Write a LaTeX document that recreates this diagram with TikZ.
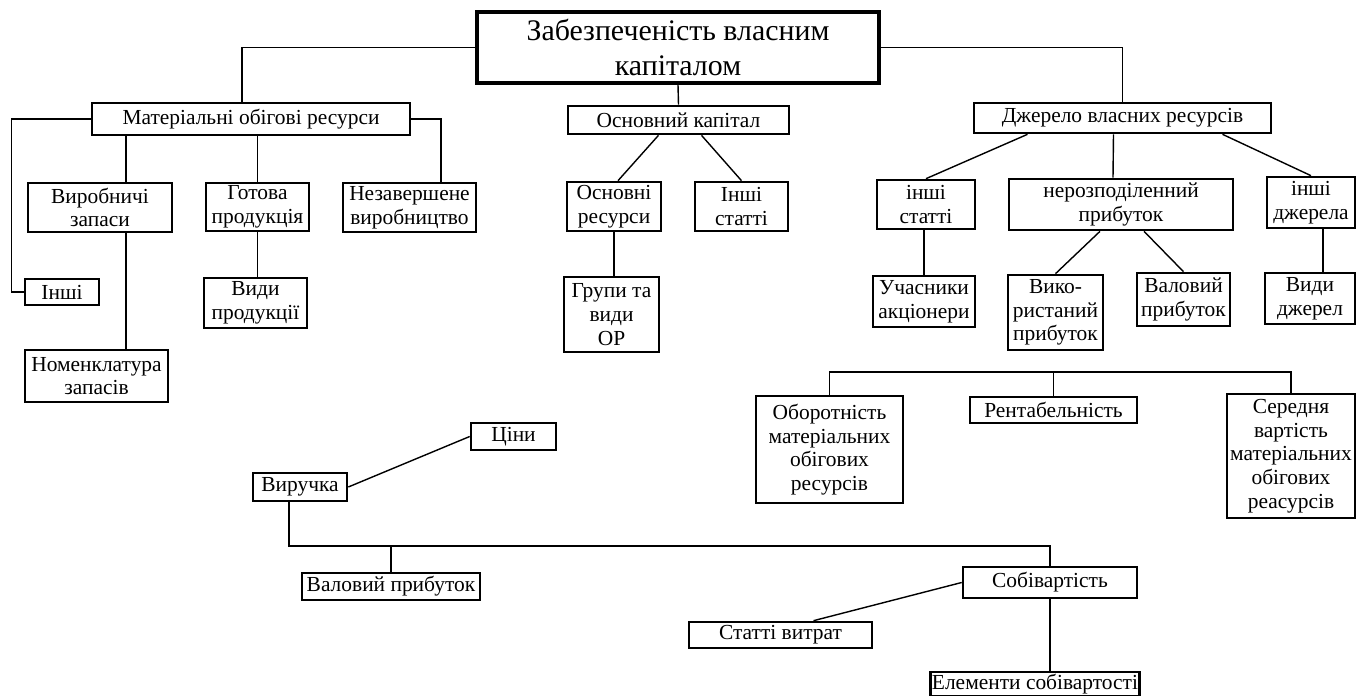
\documentclass[tikz,border=0pt]{standalone}
\usepackage{fontspec}
\setmainfont{Liberation Serif}
\usetikzlibrary{calc,positioning}

\begin{document}
\begin{tikzpicture}[x=0.02cm,y=-0.02cm]
    \tikzstyle{block} = [rectangle, draw, line width=1.5pt, inner sep=1pt,
      align=center, font=\fontsize{12.2}{13.5}\selectfont]
    \tikzstyle{line} = [draw, line width=0.8pt]
    \tikzset{wh/.style 2 args={minimum width=#1*0.02cm, minimum height=#2*0.02cm}}

    \fill[white] (0,0) rectangle (1357,696);
    \useasboundingbox (0,0) rectangle (1357,696);

    % Define nodes
    \node[block, wh={402}{71}, line width=1.8pt, font=\fontsize{17}{19.5}\selectfont]
      (top) at (678,47.5) {Забезпеченість власним\\капіталом};
    \node[block, wh={318}{32}] (matres) at (251,119) {Матеріальні обігові ресурси};
    \node[block, wh={221}{28}] (osnkap) at (678.5,120) {Основний капітал};
    \node[block, wh={297}{30}] (dzher) at (1122.5,118) {Джерело власних ресурсів};

    \node[block, wh={144}{49}] (vyrob) at (100,207.5) {Виробничі\\запаси};
    \node[block, wh={103}{48}] (gotova) at (257.5,207) {Готова\\продукція};
    \node[block, wh={133}{49}] (nezav) at (409.5,207.5) {Незавершене\\виробництво};
    \node[block, wh={74}{26}] (inshi) at (62,292) {Інші};
    \node[block, wh={143}{52}] (nomen) at (96.5,376) {Номенклатура\\запасів};
    \node[block, wh={103}{50}] (vydyprod) at (255.5,303) {Види\\продукції};

    \node[block, wh={94}{49}] (osnres) at (614,206.5) {Основні\\ресурси};
    \node[block, wh={93}{49}] (inshist) at (741.5,206.5) {Інші\\статті};
    \node[block, wh={95}{75}] (grupy) at (611.5,314.5) {Групи та\\види\\ОР};

    \node[block, wh={98}{49}] (inshist2) at (926,204.5) {інші\\статті};
    \node[block, wh={224}{51}] (nerozp) at (1121,204.5) {нерозподіленний\\прибуток};
    \node[block, wh={88}{51}] (inshdzh) at (1311,202.5) {інші\\джерела};
    \node[block, wh={102}{51}] (uchasn) at (924,301.5) {Учасники\\акціонери};
    \node[block, wh={95}{75}] (vykor) at (1055.5,312.5) {Вико-\\ристаний\\прибуток};
    \node[block, wh={93}{53}] (valpryb) at (1183.5,299.5) {Валовий\\прибуток};
    \node[block, wh={90}{51}] (vydydzh) at (1310,298.5) {Види\\джерел};

    \node[block, wh={147}{107}] (obor) at (829.5,449.5) {Оборотність\\матеріальних\\обігових\\ресурсів};
    \node[block, wh={167}{26}] (rent) at (1053.5,410) {Рентабельність};
    \node[block, wh={128}{124}] (sered) at (1291,456) {Середня\\вартість\\матеріальних\\обігових\\реасурсів};

    \node[block, wh={85}{27}] (tsiny) at (513.5,436.5) {Ціни};
    \node[block, wh={94}{28}] (vyruch) at (300,487) {Виручка};
    \node[block, wh={178}{27}] (valpryb2) at (391,586.5) {Валовий прибуток};
    \node[block, wh={174}{31}] (sobiv) at (1050,582.5) {Собівартість};
    \node[block, wh={183}{26}] (statti) at (780.5,635) {Статті витрат};
    \node[block, wh={204}{24}] (elem) at (1035,684) {Елементи собівартості};

    % top level
    \draw[line] (top.west) -| ($(matres.north)+(-9,0)$);
    \draw[line] (top.east) -| (dzher.north);
    \draw[line] (top.south) -- (osnkap.north);

    % left branch
    \draw[line] (matres.west) -- ++(-79,0) |- (inshi.west);
    \draw[line] (matres.east) -| ($(nezav.north)+(31.5,0)$);
    \coordinate (vx) at (126,0);
    \draw[line] (vx |- matres.south) -- (vx |- vyrob.north);
    \draw[line] (vx |- vyrob.south) -- (vx |- nomen.north);
    \draw[line] (gotova.north |- matres.south) -- (gotova.north);
    \draw[line] (gotova.south) -- (gotova.south |- vydyprod.north);

    % middle branch
    \draw[line] ($(osnkap.south)+(-20,0)$) -- ($(osnres.north)+(4,0)$);
    \draw[line] ($(osnkap.south)+(23,0)$) -- (inshist.north);
    \draw[line] (osnres.south) -- (osnres.south |- grupy.north);

    % right branch
    \draw[line] ($(dzher.south)+(-95,0)$) -- (inshist2.north);
    \draw[line] ($(dzher.south)+(-9,0)$) -- ($(nerozp.north)+(-8,0)$);
    \draw[line] ($(dzher.south)+(100,0)$) -- (inshdzh.north);
    \draw[line] (uchasn.north |- inshist2.south) -- (uchasn.north);
    \draw[line] ($(nerozp.south)+(-21,0)$) -- (vykor.north);
    \draw[line] ($(nerozp.south)+(23,0)$) -- (valpryb.north);
    \draw[line] ($(inshdzh.south)+(12,0)$) -- ($(vydydzh.north)+(13,0)$);

    % indicators
    \coordinate (bar) at (0,372);
    \draw[line] (obor.north) -- (obor.north |- bar) -- (sered.north |- bar) -- (sered.north);
    \draw[line] (rent.north) -- (rent.north |- bar);

    % revenue and cost
    \draw[line] (vyruch.east) -- (tsiny.west);
    \coordinate (low) at (0,546);
    \draw[line] ($(vyruch.south)+(-11,0)$) |- (sobiv.north |- low) -- (sobiv.north);
    \draw[line] (valpryb2.north) -- (valpryb2.north |- low);
    \draw[line] (sobiv.west) -- ($(statti.north)+(33,0)$);
    \draw[line] (sobiv.south) -- (sobiv.south |- elem.north);

\end{tikzpicture}
\end{document}
